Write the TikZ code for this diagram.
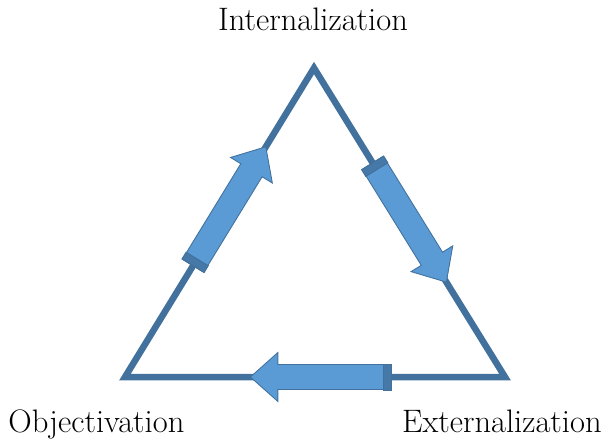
\documentclass[tikz,border=0pt]{standalone}
\usetikzlibrary{calc}

\definecolor{edgeblue}{RGB}{65,113,156}
\definecolor{arrowblue}{RGB}{91,155,213}

% block arrow from tail coordinate #1 to tip coordinate #2
\newcommand{\blockarrow}[2]{%
  \coordinate (hb) at ($(#2)!0.55cm!(#1)$);
  \coordinate (tb) at ($(#1)!0.16cm!(#2)$);
  \filldraw[arrowblue, draw=edgeblue, line width=0.5pt, line join=miter]
    ($(#1)!0.25cm!90:(#2)$) -- ($(hb)!0.25cm!90:(#2)$) -- ($(hb)!0.49cm!90:(#2)$) -- (#2)
    -- ($(hb)!0.49cm!-90:(#2)$) -- ($(hb)!0.25cm!-90:(#2)$) -- ($(#1)!0.25cm!-90:(#2)$) -- cycle;
  \filldraw[edgeblue!80!arrowblue, draw=edgeblue, line width=0.5pt]
    ($(#1)!0.26cm!90:(#2)$) -- ($(tb)!0.26cm!90:(#2)$) -- ($(tb)!0.26cm!-90:(#2)$) -- ($(#1)!0.26cm!-90:(#2)$) -- cycle;
}

\begin{document}
\begin{tikzpicture}[x=0.02cm, y=-0.02cm, font=\fontsize{18.5}{22}\selectfont]
    \useasboundingbox (0,0) rectangle (606,447);

    \coordinate (I) at (314, 68);
    \coordinate (O) at (125, 377);
    \coordinate (E) at (505, 377);

    \draw[edgeblue, line width=0.13cm, line join=miter] (I) -- (E) -- (O) -- cycle;

    \coordinate (left_tail) at ($(O)!0.36!(I)$);
    \coordinate (left_tip) at ($(O)!0.745!(I)$);
    \coordinate (right_tail) at ($(I)!0.307!(E)$);
    \coordinate (right_tip) at ($(I)!0.693!(E)$);
    \coordinate (bottom_tail) at ($(E)!0.30!(O)$);
    \coordinate (bottom_tip) at ($(E)!0.67!(O)$);

    \blockarrow{left_tail}{left_tip}
    \blockarrow{right_tail}{right_tip}
    \blockarrow{bottom_tail}{bottom_tip}

    \node[anchor=base] (I_label) at (313, 30) {Internalization};
    \node[anchor=base west, inner sep=0pt] (O_label) at (8, 432) {Objectivation};
    \node[anchor=base east, inner sep=0pt] (E_label) at (602, 432) {Externalization};

\end{tikzpicture}
\end{document}
